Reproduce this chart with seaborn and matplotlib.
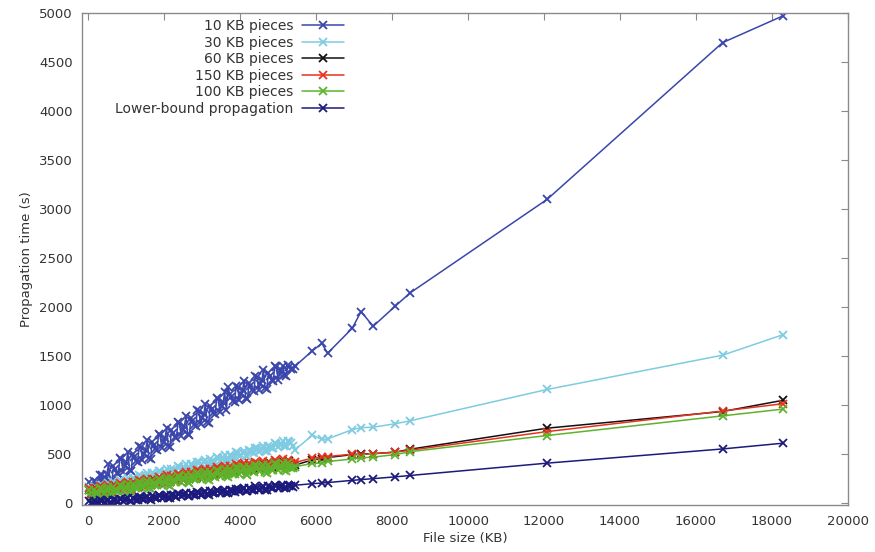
"""Propagation time vs file size for different piece sizes (gnuplot-style look)."""

import pandas as pd
import matplotlib
matplotlib.use("Agg")
import matplotlib.pyplot as plt
import seaborn as sns

# file sizes (KB) shared by every series
file_size_kb = [
    20, 65, 110, 150, 190, 235, 280, 320, 360, 405, 450, 490, 530, 575, 620, 660,
    700, 745, 790, 830, 870, 915, 960, 1000, 1040, 1085, 1130, 1170, 1210, 1255,
    1300, 1340, 1380, 1425, 1470, 1510, 1550, 1595, 1640, 1680, 1720, 1765, 1810,
    1850, 1890, 1935, 1980, 2020, 2060, 2105, 2150, 2190, 2230, 2275, 2320, 2360,
    2400, 2445, 2490, 2530, 2570, 2615, 2660, 2700, 2740, 2785, 2830, 2870, 2910,
    2955, 3000, 3040, 3080, 3125, 3170, 3210, 3250, 3295, 3340, 3380, 3420, 3465,
    3510, 3550, 3590, 3635, 3680, 3720, 3760, 3805, 3850, 3890, 3930, 3975, 4020,
    4060, 4100, 4145, 4190, 4230, 4270, 4315, 4360, 4400, 4440, 4485, 4530, 4570,
    4610, 4655, 4700, 4740, 4780, 4825, 4870, 4910, 4950, 4995, 5040, 5080, 5120,
    5165, 5210, 5250, 5290, 5335, 5380,
    5450, 5900, 6150, 6300, 6950, 7180, 7500, 8080, 8470, 12080, 16700, 18300,
]

pieces_10kb = [
    220, 136, 136, 226, 216, 201, 202, 287, 286, 227, 258, 298, 397, 218, 209, 378,
    348, 309, 300, 459, 449, 320, 380, 420, 520, 340, 331, 501, 470, 431, 422, 582,
    571, 442, 503, 542, 642, 463, 454, 623, 593, 554, 544, 704, 694, 564, 625, 665,
    764, 585, 576, 746, 715, 676, 667, 826, 816, 687, 748, 787, 887, 708, 698, 868,
    838, 798, 789, 949, 938, 809, 870, 910, 1009, 830, 821, 990, 960, 921, 912, 1071,
    1061, 932, 992, 1032, 1132, 952, 1190, 1113, 1082, 1043, 1034, 1194, 1183, 1054,
    1114, 1152, 1250, 1069, 1058, 1226, 1194, 1153, 1142, 1300, 1288, 1157, 1216,
    1254, 1360, 1171, 1160, 1328, 1296, 1255, 1244, 1402, 1390, 1259, 1318, 1356,
    1404, 1303, 1302, 1410, 1388, 1367, 1366,
    1400, 1555, 1630, 1530, 1785, 1955, 1805, 2010, 2145, 3100, 4700, 4975,
]

pieces_30kb = [
    162, 111, 110, 164, 152, 142, 141, 190, 183, 147, 166, 180, 209, 158, 157, 211,
    199, 189, 188, 237, 230, 194, 213, 227, 256, 205, 204, 258, 246, 236, 235, 284,
    277, 241, 260, 274, 303, 252, 251, 305, 293, 283, 282, 331, 324, 288, 307, 321,
    350, 299, 298, 352, 340, 329, 328, 377, 371, 335, 354, 368, 396, 346, 345, 399,
    387, 376, 375, 424, 418, 382, 401, 415, 443, 393, 392, 446, 434, 423, 422, 471,
    465, 429, 448, 462, 490, 440, 439, 493, 481, 470, 469, 518, 512, 476, 495, 509,
    537, 486, 485, 539, 528, 517, 516, 565, 558, 523, 542, 556, 584, 533, 532, 586,
    575, 564, 563, 612, 605, 570, 589, 603, 631, 580, 579, 633, 622, 611, 580,
    545, 695, 650, 655, 750, 770, 775, 810, 840, 1160, 1510, 1720,
]

pieces_60kb = [
    130, 97, 88, 127, 142, 120, 98, 113, 152, 142, 108, 136, 163, 129, 118, 158,
    173, 151, 130, 145, 184, 174, 140, 167, 194, 160, 150, 190, 205, 183, 161, 177,
    216, 206, 171, 199, 226, 192, 182, 222, 237, 215, 192, 208, 247, 237, 203, 231,
    258, 224, 213, 253, 268, 246, 224, 240, 279, 269, 234, 262, 289, 255, 245, 285,
    300, 278, 255, 271, 310, 300, 266, 294, 321, 287, 277, 317, 332, 310, 287, 303,
    342, 332, 298, 326, 353, 319, 308, 348, 363, 341, 319, 335, 374, 364, 329, 356,
    382, 347, 335, 374, 389, 366, 342, 357, 395, 384, 349, 376, 402, 367, 355, 394,
    408, 385, 362, 377, 415, 404, 368, 395, 421, 386, 374, 413, 427, 404, 380,
    390, 440, 455, 465, 495, 500, 505, 520, 550, 765, 935, 1050,
]

pieces_150kb = [
    151, 89, 82, 150, 132, 120, 113, 171, 163, 121, 134, 157, 184, 122, 115, 183,
    165, 153, 146, 204, 196, 154, 166, 189, 217, 155, 147, 215, 197, 185, 178, 236,
    228, 186, 199, 222, 249, 187, 180, 248, 230, 218, 211, 269, 261, 219, 232, 255,
    282, 220, 213, 281, 263, 251, 243, 301, 294, 252, 264, 287, 314, 252, 245, 313,
    295, 283, 276, 334, 326, 284, 297, 320, 347, 285, 278, 346, 328, 316, 309, 367,
    359, 317, 330, 353, 380, 318, 311, 379, 361, 349, 341, 399, 392, 350, 362, 384,
    410, 347, 338, 405, 386, 373, 364, 421, 412, 369, 380, 396, 428, 365, 356, 423,
    404, 391, 382, 439, 430, 387, 398, 414, 446, 383, 374, 441, 422, 409, 400,
    415, 460, 470, 475, 500, 495, 505, 520, 540, 730, 940, 1015,
]

pieces_100kb = [
    132, 60, 52, 135, 107, 90, 88, 156, 143, 91, 108, 136, 163, 91, 84, 167,
    139, 122, 119, 187, 174, 122, 140, 168, 195, 123, 116, 199, 171, 154, 151, 219,
    206, 154, 172, 200, 227, 155, 147, 230, 202, 185, 183, 251, 238, 186, 204, 231,
    258, 186, 179, 261, 233, 216, 213, 281, 268, 216, 233, 261, 288, 216, 208, 290,
    262, 245, 242, 310, 297, 245, 262, 289, 316, 244, 236, 319, 291, 274, 271, 338,
    325, 273, 290, 318, 345, 273, 265, 347, 319, 302, 299, 367, 354, 302, 320, 347,
    373, 300, 291, 373, 344, 326, 322, 388, 374, 324, 337, 364, 390, 317, 308, 392,
    360, 342, 338, 405, 391, 338, 354, 380, 406, 333, 324, 406, 377, 358, 354,
    372, 405, 410, 425, 450, 462, 470, 495, 525, 690, 890, 960,
]

lower_bound = [
    19, 0, 0, 19, 10, 2, 0, 30, 24, 3, 11, 22, 35, 4, 2, 35,
    27, 19, 16, 47, 41, 20, 28, 39, 52, 21, 19, 52, 44, 36, 33, 64,
    58, 37, 45, 56, 69, 38, 36, 69, 61, 53, 50, 81, 74, 53, 61, 72,
    86, 55, 53, 86, 78, 70, 67, 98, 91, 70, 78, 89, 103, 72, 70, 103,
    94, 86, 83, 114, 108, 87, 95, 106, 120, 89, 87, 120, 111, 103, 100, 131,
    125, 104, 112, 123, 136, 105, 103, 136, 128, 120, 117, 148, 142, 121, 129, 140,
    153, 122, 120, 153, 145, 137, 134, 170, 159, 138, 145, 156, 170, 139, 137, 173,
    162, 154, 151, 187, 175, 154, 162, 173, 187, 156, 154, 187, 179, 171, 168,
    183, 198, 205, 210, 233, 240, 250, 268, 282, 408, 553, 612,
]

series = [
    ("10 KB pieces", pieces_10kb, "#3a46ab"),
    ("30 KB pieces", pieces_30kb, "#7ecbe2"),
    ("60 KB pieces", pieces_60kb, "#111111"),
    ("150 KB pieces", pieces_150kb, "#e8321e"),
    ("100 KB pieces", pieces_100kb, "#5db42c"),
    ("Lower-bound propagation", lower_bound, "#1c1a7c"),
]

sns.set_theme(style="white")
plt.rcParams["font.family"] = ["DejaVu Sans"]

fig, ax = plt.subplots(figsize=(8.75, 5.52), dpi=100)
fig.subplots_adjust(left=0.094, right=0.969, top=0.976, bottom=0.085)

for label, values, color in series:
    df = pd.DataFrame({"size": file_size_kb, "time": values})
    sns.lineplot(data=df, x="size", y="time", color=color, label=label,
                 marker="x", markersize=5.5, markeredgewidth=1.3,
                 markeredgecolor=color, linewidth=1.1, sort=False,
                 estimator=None, ax=ax)

ax.set_xlim(-160, 20000)
ax.set_ylim(-20, 5000)
ax.set_xticks(range(0, 20001, 2000))
ax.set_yticks(range(0, 5001, 500))

for side in ax.spines.values():
    side.set_color("#8a8a8a")
    side.set_linewidth(1.0)
ax.tick_params(direction="in", length=5, width=0.8, color="#8a8a8a",
               top=True, right=True, labelsize=9.5, labelcolor="#333333", pad=7)

ax.set_xlabel("File size (KB)", fontsize=9.5, color="#333333", labelpad=3)
ax.set_ylabel("Propagation time (s)", fontsize=9.5, color="#333333", labelpad=4)

leg = ax.legend(loc="upper right", bbox_to_anchor=(0.354, 1.008),
                frameon=False, markerfirst=False, fontsize=10,
                handlelength=3.0, handletextpad=0.6, labelspacing=0.18,
                borderpad=0.2, numpoints=1)
for txt in leg.get_texts():
    txt.set_color("#333333")

fig.savefig("out.png", dpi=100)
